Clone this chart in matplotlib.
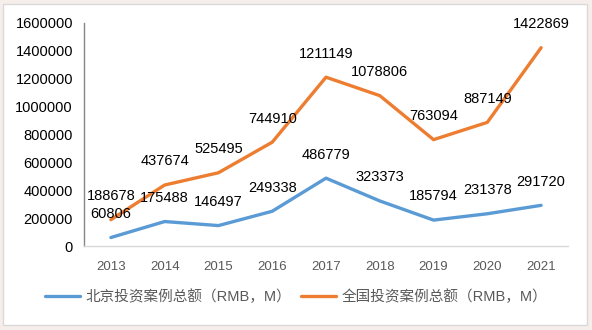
import matplotlib
matplotlib.use('Agg')
import matplotlib.pyplot as plt
from matplotlib.patches import Rectangle

plt.rcParams['font.family'] = ['Liberation Sans', 'Noto Sans CJK SC']

years = ['2013', '2014', '2015', '2016', '2017', '2018', '2019', '2020', '2021']
beijing = [60806, 175488, 146497, 249338, 486779, 323373, 185794, 231378, 291720]
national = [188678, 437674, 525495, 744910, 1211149, 1078806, 763094, 887149, 1422869]
yticks = [0, 200000, 400000, 600000, 800000, 1000000, 1200000, 1400000, 1600000]

fig = plt.figure(figsize=(5.92, 3.30), dpi=100, facecolor='#f6eeea')
# white chart panel with thin border, kept behind the axes
fig.patches.append(Rectangle((3 / 592, 5 / 330), 584 / 592, 321 / 330,
                             transform=fig.transFigure, facecolor='white',
                             edgecolor='#d9d9d9', linewidth=1, zorder=-10))

ax = fig.add_axes([84 / 592, 84 / 330, 484 / 592, 223 / 330])
ax.set_facecolor('none')
x = range(len(years))
ax.plot(x, beijing, color='#5b9bd5', linewidth=2.4, solid_capstyle='round',
        label='北京投资案例总额（RMB，M）')
ax.plot(x, national, color='#ed7d31', linewidth=2.4, solid_capstyle='round',
        label='全国投资案例总额（RMB，M）')

for xi, v in zip(x, beijing):
    ax.annotate(str(v), (xi, v), xytext=(0, 17), textcoords='offset points',
                ha='center', va='center', fontsize=10.5, color='black')
for xi, v in zip(x, national):
    ax.annotate(str(v), (xi, v), xytext=(0, 17), textcoords='offset points',
                ha='center', va='center', fontsize=10.5, color='black')

ax.set_xlim(-0.5, len(years) - 0.5)
ax.set_ylim(0, 1600000)
ax.set_xticks(list(x))
ax.set_xticklabels(years, fontsize=9.5, color='#595959')
ax.set_yticks(yticks)
ax.set_yticklabels([str(t) for t in yticks], fontsize=10.5, color='black')
ax.tick_params(axis='x', length=0, pad=11)
ax.tick_params(axis='y', length=0, pad=8)
ax.spines['top'].set_visible(False)
ax.spines['right'].set_visible(False)
ax.spines['left'].set_color('#868686')
ax.spines['left'].set_linewidth(1)
ax.spines['bottom'].set_color('#d9d9d9')
ax.spines['bottom'].set_linewidth(1)

fig.legend(loc='center', bbox_to_anchor=(0.5, 33 / 330), ncol=2, frameon=False,
           fontsize=10.5, labelcolor='#595959', handlelength=2.4,
           handletextpad=0.35, columnspacing=0.7)

fig.savefig('out.png', dpi=100, facecolor=fig.get_facecolor())
